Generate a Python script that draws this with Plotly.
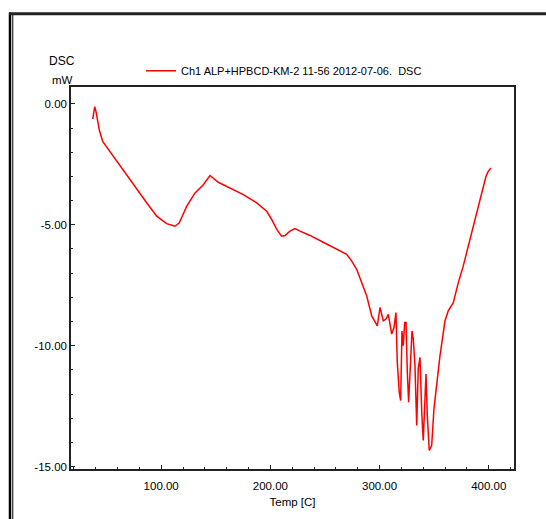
import plotly.graph_objects as go

# DSC run: temperature (C) vs heat flow (mW)
temp_c = [
    37.3, 39.1, 40.3, 43.3, 46.4, 56.1, 66.8, 77.6, 86.7, 95.9,
    105.0, 112.6, 116.6, 123.4, 131.0, 138.6, 144.7, 152.3, 166.0, 175.2,
    187.5, 196.6, 201.2, 205.8, 210.3, 213.4, 217.9, 222.5, 227.1, 236.3,
    248.4, 260.7, 269.9, 274.5, 279.0, 283.6, 288.2, 292.8, 295.8, 297.9,
    300.4, 303.4, 305.9, 308.0, 311.1, 313.2, 315.0, 316.2, 318.0, 319.3,
    320.5, 321.7, 323.0, 324.2, 325.4, 326.6, 329.7, 330.9, 332.4, 334.0,
    335.4, 337.0, 338.6, 340.0, 342.5, 343.7, 345.5, 347.7, 349.8, 352.3,
    355.3, 359.9, 362.9, 367.5, 372.1, 376.6, 381.2, 385.8, 390.4, 393.5,
    397.4, 399.5, 402.0,
]
dsc_mw = [
    -0.63, -0.11, -0.32, -1.07, -1.55, -2.17, -2.86, -3.54, -4.09, -4.64,
    -4.95, -5.06, -4.92, -4.23, -3.68, -3.34, -2.96, -3.24, -3.54, -3.75,
    -4.09, -4.44, -4.78, -5.19, -5.47, -5.44, -5.26, -5.16, -5.26, -5.44,
    -5.72, -5.99, -6.22, -6.50, -6.84, -7.39, -7.94, -8.77, -9.04, -9.18,
    -8.42, -8.97, -8.90, -8.70, -9.52, -9.25, -8.63, -10.69, -11.92, -12.27,
    -9.39, -10.00, -9.04, -9.04, -11.10, -12.34, -9.39, -9.73, -10.83, -13.30,
    -10.96, -10.48, -12.75, -13.92, -11.17, -12.89, -14.33, -14.13, -12.61, -11.51,
    -10.42, -8.97, -8.56, -8.22, -7.39, -6.71, -5.88, -5.06, -4.23, -3.68,
    -3.00, -2.79, -2.65,
]

x_tick_vals = [100, 200, 300, 400]
x_tick_text = ["100.00", "200.00", "300.00", "400.00"]
y_tick_vals = [0, -5, -10, -15]
y_tick_text = ["0.00", "-5.00", "-10.00", "-15.00"]

series_name = "Ch1 ALP+HPBCD-KM-2 11-56 2012-07-06.  DSC"

FONT = "Liberation Sans, Arial, sans-serif"
FS = 11.5

W, H = 546, 519
L, R, T, B = 71, 32, 87, 47.5
PW, PH = W - L - R, H - T - B


def px(x):
    return (x - L) / PW


def py(y):
    return (H - B - y) / PH


fig = go.Figure()
fig.add_trace(go.Scatter(
    x=temp_c, y=dsc_mw, mode="lines", name=series_name,
    line=dict(color="#ff0000", width=1.5), showlegend=True,
))

axis_common = dict(
    showgrid=False, zeroline=False, showline=True, mirror=True,
    linecolor="#222222", linewidth=1.5, ticks="inside", ticklen=4,
    tickcolor="#222222", tickfont=dict(family=FONT, size=FS, color="#000000"),
)

fig.update_xaxes(
    range=[17.4, 423.1], tickmode="array", tickvals=x_tick_vals, ticktext=x_tick_text,
    minor=dict(dtick=20, tick0=0, ticks="inside", ticklen=2, tickcolor="#222222"),
    title=dict(text="Temp [C]", font=dict(family=FONT, size=FS, color="#000000"), standoff=7),
    ticklabelstandoff=5,
    **axis_common,
)
fig.update_yaxes(
    range=[-15.1, 0.7], tickmode="array", tickvals=y_tick_vals, ticktext=y_tick_text,
    minor=dict(dtick=1, tick0=0, ticks="inside", ticklen=2, tickcolor="#222222"),
    ticklabelstandoff=0,
    **axis_common,
)

# outer window frame: double line on the left, heavy line along the top
shapes = [
    dict(type="line", xref="paper", yref="paper", x0=px(10), x1=px(10), y0=py(12), y1=py(H + 5),
         line=dict(color="#000000", width=2.5)),
    dict(type="line", xref="paper", yref="paper", x0=px(12.8), x1=px(12.8), y0=py(14), y1=py(H + 5),
         line=dict(color="#000000", width=1)),
    dict(type="line", xref="paper", yref="paper", x0=px(9), x1=px(W + 5), y0=py(13.3), y1=py(13.3),
         line=dict(color="#222222", width=3)),
]

annotations = [
    dict(text="DSC", xref="paper", yref="paper", x=px(62), y=py(61), showarrow=False,
         xanchor="center", yanchor="middle", font=dict(family=FONT, size=FS + 0.5, color="#000000")),
    dict(text="mW", xref="paper", yref="paper", x=px(62), y=py(80), showarrow=False,
         xanchor="center", yanchor="middle", font=dict(family=FONT, size=FS, color="#000000")),
]

fig.update_layout(
    width=W, height=H,
    margin=dict(l=L, r=R, t=T, b=B),
    paper_bgcolor="#ffffff", plot_bgcolor="#ffffff",
    font=dict(family=FONT, size=FS, color="#000000"),
    shapes=shapes, annotations=annotations,
    legend=dict(
        x=px(141), y=py(70.6), xanchor="left", yanchor="middle",
        bgcolor="rgba(0,0,0,0)", borderwidth=0,
        font=dict(family=FONT, size=11, color="#000000"),
    ),
)

fig.write_html("out.html")
